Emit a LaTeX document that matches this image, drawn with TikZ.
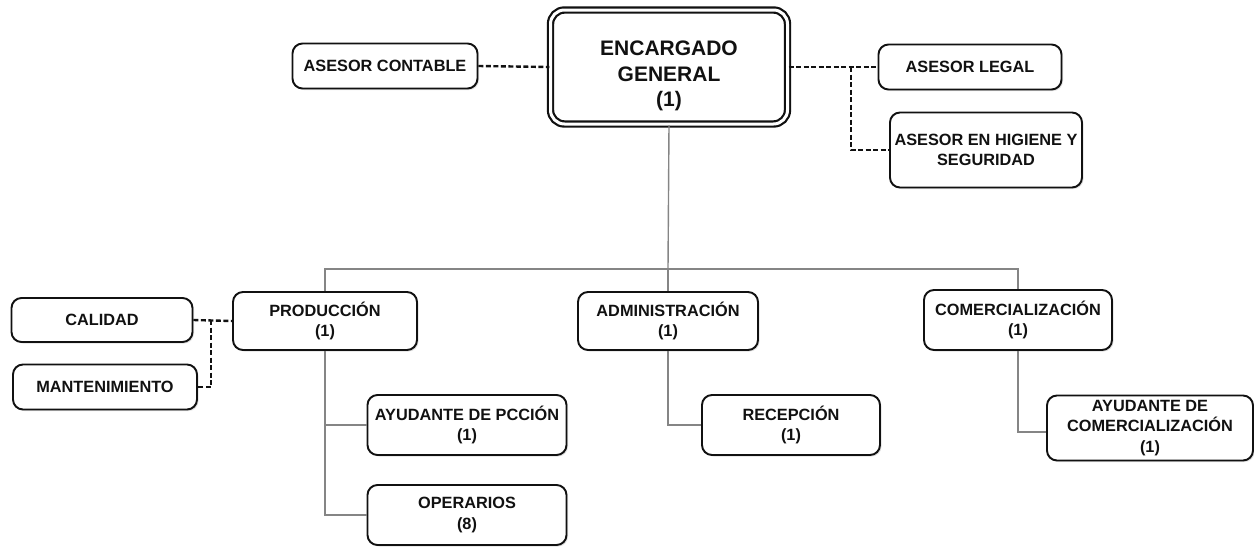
\documentclass[tikz,border=0pt]{standalone}
\usepackage{fontspec}
\setmainfont{Liberation Sans}
\usepackage{tikz}
\usetikzlibrary{shadows}
\definecolor{Branch}{HTML}{858585}
\definecolor{Ink}{HTML}{111111}
\tikzset{
  cargo/.style={draw=Ink, line width=1.9pt, rounded corners=10pt, fill=white,
    align=center, inner sep=2pt, text=Ink,
    font=\bfseries\fontsize{16.3}{20.5}\selectfont,
    minimum width=#1,
    drop shadow={shadow xshift=1.5pt, shadow yshift=-1.5pt, fill=black!25}},
  cargo/.default={184pt},
  rama/.style={draw=Branch, line width=1.4pt},
  staff/.style={draw=Ink, line width=2.4pt, dash pattern=on 5pt off 2.5pt},
}

\begin{document}
\begin{tikzpicture}[x=1pt, y=-1pt,
  jefe/.style={draw=Ink, line width=2.2pt, double=white, double distance=3pt,
    rounded corners=14pt, fill=white,
    minimum width=237pt, minimum height=114pt},
  jefetxt/.style={align=center, text=Ink, yshift=-9pt,
    font=\bfseries\fontsize{21}{25.5}\selectfont},
]
  \useasboundingbox (0,0) rectangle (1254,547);

  % direccion y asesores
  \node[jefe, label={[jefetxt]center:ENCARGADO\\GENERAL\\(1)}] (enc) at (669,67) {};
  \node[cargo=185pt, minimum height=45pt] (cont) at (385,66) {ASESOR CONTABLE};
  \node[cargo=183pt, minimum height=45pt] (legal) at (970,67) {ASESOR LEGAL};
  \node[cargo=192pt, minimum height=75pt] (higi) at (986,150) {ASESOR EN HIGIENE Y\\SEGURIDAD};

  % areas
  \node[cargo=184pt, minimum height=58pt] (prod) at (325,321) {PRODUCCIÓN\\(1)};
  \node[cargo=180pt, minimum height=58pt] (admin) at (668,321) {ADMINISTRACIÓN\\(1)};
  \node[cargo=188pt, minimum height=60pt] (com) at (1018,320) {COMERCIALIZACIÓN\\(1)};

  \node[cargo=181pt, minimum height=44pt] (cal) at (102,320) {CALIDAD};
  \node[cargo=184pt, minimum height=45pt] (mant) at (105,387) {MANTENIMIENTO};

  \node[cargo=199pt, minimum height=60pt] (ayud) at (467,425) {AYUDANTE DE PCCIÓN\\(1)};
  \node[cargo=199pt, minimum height=60pt] (oper) at (467,515) {OPERARIOS\\(8)};
  \node[cargo=178pt, minimum height=60pt] (recep) at (791,425) {RECEPCIÓN\\(1)};
  \node[cargo=206pt, minimum height=65pt] (ayudc) at (1150,428) {AYUDANTE DE\\COMERCIALIZACIÓN\\(1)};

  % lineas staff
  \coordinate (nl) at (851,67);
  \coordinate (nc) at (211,320);
  \draw[staff] (cont.east) -- (enc.west);
  \draw[staff] (enc.east) -- (legal.west);
  \draw[staff] (nl) |- (higi.west);
  \draw[staff] (cal.east) -- (prod.west);
  \draw[staff] (nc) |- (mant.east);

  % lineas de mando
  \coordinate (bar) at (668,269);
  \draw[rama] (enc.south) -- (bar);
  \draw[rama] (prod.north) |- (bar) -| (com.north);
  \draw[rama] (bar) -- (admin.north);
  \draw[rama] (prod.south) |- (ayud.west);
  \draw[rama] (prod.south) |- (oper.west);
  \draw[rama] (admin.south) |- (recep.west);
  \draw[rama] (com.south) |- ([yshift=-4pt]ayudc.west);
\end{tikzpicture}
\end{document}
